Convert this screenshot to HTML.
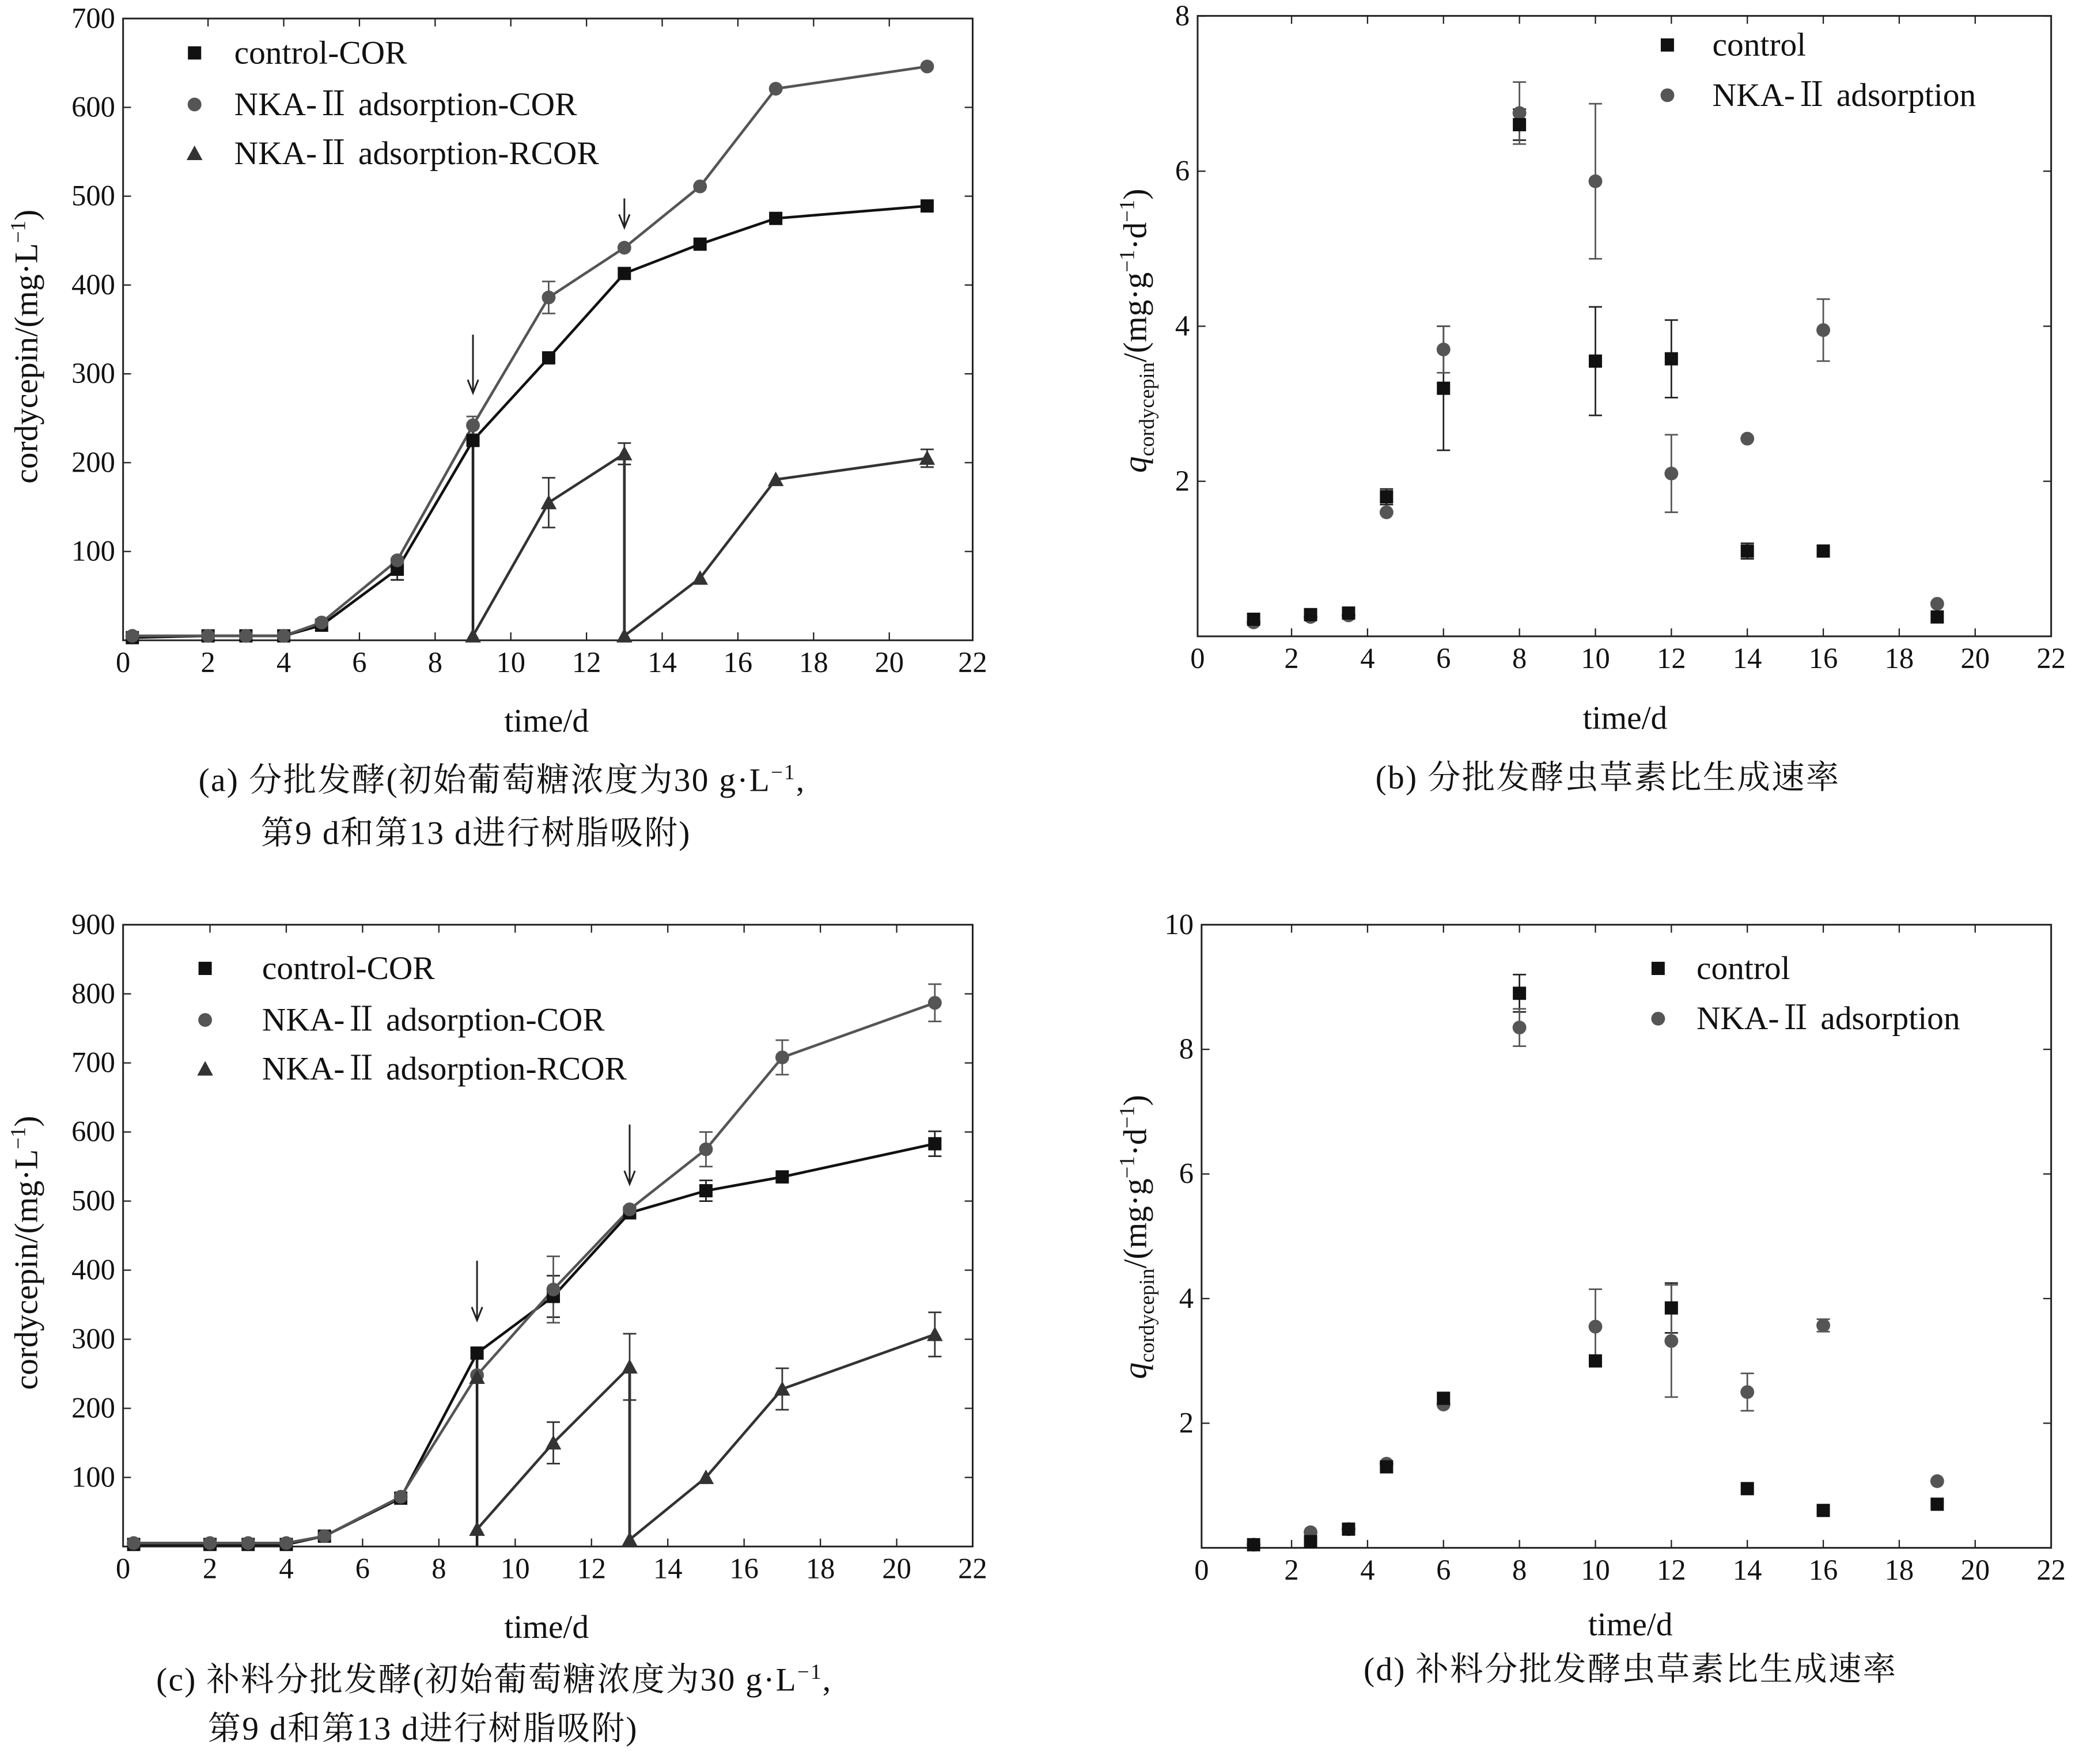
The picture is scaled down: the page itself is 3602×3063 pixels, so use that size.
<!DOCTYPE html>
<html><head><meta charset="utf-8"><style>
html,body{margin:0;padding:0;background:#fff}
svg{display:block}
text{font-family:"Liberation Serif","Noto Serif CJK SC","Noto Sans CJK SC",serif;fill:#111}
.cap{font-size:25px;letter-spacing:1px}
</style></head><body>
<svg id="fig" width="3602" height="3063" viewBox="0 0 1568 1333.4" xmlns="http://www.w3.org/2000/svg"></svg>
<script>
// ---- data ----
const aCtrlT=[0,2,3,4,5,7,9,11,13,15,17,21];
const aCtrlV=[3,5,5,5,17,80,225,318,413,446,475,489];
const aCtrlE=[0,0,0,0,0,12,0,0,0,0,0,0];
const aNkaT=[0,2,3,4,5,7,9,11,13,15,17,21];
const aNkaV=[5,5,5,5,20,90,242,386,442,511,621,646];
const aNkaE=[0,0,0,0,0,0,10,18,0,0,0,0];
const aRT=[9,11,13,13,15,17,21];
const aRV=[5,155,210,5,70,181,205];
const aRE=[0,28,12,0,0,0,10];

const bT=[1,2.5,3.5,4.5,6,8,10,12,14,16,19];
const bCtrlV=[0.22,0.28,0.3,1.8,3.2,6.6,3.55,3.58,1.1,1.1,0.25];
const bCtrlE=[0,0,0,0.1,0.8,0.2,0.7,0.5,0.1,0,0];
const bNkaV=[0.18,0.25,0.27,1.6,3.7,6.75,5.87,2.1,2.55,3.95,0.42];
const bNkaE=[0,0,0,0,0.3,0.4,1.0,0.5,0,0.4,0];

const cCtrlT=[0,2,3,4,5,7,9,11,13,15,17,21];
const cCtrlV=[3,3,3,3,15,70,280,362,483,515,535,583];
const cCtrlE=[0,0,0,0,0,0,0,30,0,15,0,18];
const cNkaT=[0,2,3,4,5,7,9,11,13,15,17,21];
const cNkaV=[5,5,5,5,15,72,248,372,488,575,708,787];
const cNkaE=[0,0,0,0,0,0,0,48,0,25,25,27];
const cRT=[9,11,13,13,15,17,21];
const cRV=[25,150,260,10,100,228,307];
const cRE=[0,30,48,0,0,30,32];

const dT=[1,2.5,3.5,4.5,6,8,10,12,14,16,19];
const dCtrlV=[0.05,0.1,0.3,1.3,2.4,8.9,3.0,3.85,0.95,0.6,0.7];
const dCtrlE=[0,0,0,0,0,0.3,0,0.4,0,0,0];
const dNkaV=[0.05,0.25,0.3,1.35,2.3,8.35,3.55,3.32,2.5,3.57,1.07];
const dNkaE=[0,0,0,0,0,0.3,0.6,0.9,0.3,0.1,0];

const xTicks=[0,2,4,6,8,10,12,14,16,18,20,22];
const aYTicks=[100,200,300,400,500,600,700];
const bYTicks=[2,4,6,8];
const cYTicks=[100,200,300,400,500,600,700,800,900];
const dYTicks=[2,4,6,8,10];

const svg=document.getElementById('fig');
const NS='http://www.w3.org/2000/svg';
function el(tag,attrs,parent){const e=document.createElementNS(NS,tag);for(const k in attrs)e.setAttribute(k,attrs[k]);(parent||svg).appendChild(e);return e;}
function txt(s,x,y,size,anchor,parent){const t=el('text',{x:x,y:y,'font-size':size,'text-anchor':anchor||'start'},parent);t.textContent=s;return t;}

function panel(name,box,x0,xs,y0,ys,yTicks){
  const g=el('g',{});
  
  
  const X=t=>x0+xs*t, Y=v=>y0-ys*v;
  const r=el('rect',{x:box[0],y:box[1],width:box[2]-box[0],height:box[3]-box[1],fill:'none',stroke:'#222','stroke-width':1.3},g);
  
  xTicks.forEach(t=>{const x=X(t); if(t>0&&t<22){el('line',{x1:x,y1:box[3],x2:x,y2:box[3]-6,stroke:'#222'},g);el('line',{x1:x,y1:box[1],x2:x,y2:box[1]+6,stroke:'#222'},g);}
    const lx=t===0?box[0]:(t===22?box[2]:x);
    const l=txt(String(t),lx,box[3]+24,22,'middle',g);});
  yTicks.forEach(v=>{const y=Y(v);el('line',{x1:box[0],y1:y,x2:box[0]+6,y2:y,stroke:'#222'},g);el('line',{x1:box[2],y1:y,x2:box[2]-6,y2:y,stroke:'#222'},g);
    const l=txt(String(v),box[0]-6,y+7,22,'end',g);});
  return {g,X,Y};
}
function line(p,T,V,color,name){const d=T.map((t,i)=>(i?'L':'M')+p.X(t)+' '+p.Y(V[i])).join(' ');const e=el('path',{d:d,fill:'none',stroke:color,'stroke-width':2},p.g);}
function errs(p,T,V,E,color){T.forEach((t,i)=>{if(!E[i])return;const x=p.X(t),y1=p.Y(V[i]-E[i]),y2=p.Y(V[i]+E[i]);
  const e=el('path',{d:`M${x} ${y1}L${x} ${y2}M${x-5} ${y1}L${x+5} ${y1}M${x-5} ${y2}L${x+5} ${y2}`,stroke:color,'stroke-width':1.2,fill:'none'},p.g);});}
function marker(g,type,x,y,name){let e;
  if(type==='sq')e=el('rect',{x:x-5,y:y-5,width:10,height:10,fill:'#111'},g);
  else if(type==='ci')e=el('circle',{cx:x,cy:y,r:5.2,fill:'#555'},g);
  else e=el('path',{d:`M${x} ${y-6}L${x+6} ${y+5}L${x-6} ${y+5}Z`,fill:'#333'},g);
  }
function marks(p,T,V,type,name){T.forEach((t,i)=>marker(p.g,type,p.X(t),p.Y(V[i]),name));}
function arrow(p,t,ya,yb){const x=p.X(t);const e=el('path',{d:`M${x} ${ya}L${x} ${yb}M${x-4} ${yb-10}L${x} ${yb}L${x+4} ${yb-10}`,stroke:'#222','stroke-width':1.3,fill:'none'},p.g);}
function vdrop(p,t,v,name){const e=el('line',{x1:p.X(t),y1:p.Y(v),x2:p.X(t),y2:p.Y(0),stroke:'#222','stroke-width':2},p.g);}
function legend(g,items,mx,tx,ys){items.forEach((it,i)=>{marker(g,it[0],mx,ys[i],'legend-marker');const l=txt(it[1],tx,ys[i]+8,25,'start',g);});}
function label(s,x,y,size,anchor,name,rot){const t=txt(s,x,y,size,anchor);if(rot)t.setAttribute('transform',`rotate(-90 ${x} ${y})`);return t;}

// ---- panel a ----
const pa=panel('panel-a',[93,14,735,484],100,28.6,484,0.6714,aYTicks);
vdrop(pa,9,235,'drop-day9');vdrop(pa,13,210,'drop-day13');
line(pa,aCtrlT,aCtrlV,'#111','control-cor-line');line(pa,aNkaT,aNkaV,'#555','nka-cor-line');line(pa,aRT,aRV,'#333','nka-rcor-line');
errs(pa,aCtrlT,aCtrlV,aCtrlE,'#222');errs(pa,aNkaT,aNkaV,aNkaE,'#555');errs(pa,aRT,aRV,aRE,'#333');
marks(pa,aCtrlT,aCtrlV,'sq','control-point');marks(pa,aNkaT,aNkaV,'ci','nka-point');marks(pa,aRT,aRV,'tr','rcor-point');
arrow(pa,9,253,297);arrow(pa,13,150,172);
legend(pa.g,[['sq','control-COR'],['ci','NKA-Ⅱ adsorption-COR'],['tr','NKA-Ⅱ adsorption-RCOR']],147,177,[40,79,116]);

// ---- panel b ----
const pb=panel('panel-b',[905,12,1550,481],918.6,28.7,481,58.6,bYTicks);
errs(pb,bT,bCtrlV,bCtrlE,'#222');errs(pb,bT,bNkaV,bNkaE,'#555');
marks(pb,bT,bNkaV,'ci','nka-point');marks(pb,bT,bCtrlV,'sq','control-point');
legend(pb.g,[['sq','control'],['ci','NKA-Ⅱ adsorption']],1260,1294,[34,72]);

// ---- panel c ----
const pc=panel('panel-c',[93,699,735,1169],101,28.83,1169,0.5222,cYTicks);
vdrop(pc,9,280,'drop-day9');vdrop(pc,13,260,'drop-day13');
line(pc,cCtrlT,cCtrlV,'#111','control-cor-line');line(pc,cNkaT,cNkaV,'#555','nka-cor-line');line(pc,cRT,cRV,'#333','nka-rcor-line');
errs(pc,cCtrlT,cCtrlV,cCtrlE,'#222');errs(pc,cNkaT,cNkaV,cNkaE,'#555');errs(pc,cRT,cRV,cRE,'#333');
marks(pc,cCtrlT,cCtrlV,'sq','control-point');marks(pc,cNkaT,cNkaV,'ci','nka-point');marks(pc,cRT,cRV,'tr','rcor-point');
marker(pc.g,'tr',pc.X(9),pc.Y(245),'rcor-point');
arrow(pc,9,953,998);arrow(pc,13,850,895);
legend(pc.g,[['sq','control-COR'],['ci','NKA-Ⅱ adsorption-COR'],['tr','NKA-Ⅱ adsorption-RCOR']],155,198,[732,771,808]);

// ---- panel d ----
const pd=panel('panel-d',[908,699,1550,1170],918.6,28.7,1170,47.1,dYTicks);
errs(pd,dT,dCtrlV,dCtrlE,'#222');errs(pd,dT,dNkaV,dNkaE,'#555');
marks(pd,dT,dNkaV,'ci','nka-point');marks(pd,dT,dCtrlV,'sq','control-point');
legend(pd.g,[['sq','control'],['ci','NKA-Ⅱ adsorption']],1253,1282,[732,770]);

// ---- axis titles & captions ----
function ytitleCor(x,y,name){const t=label('',x,y,25,'middle',name,true);t.innerHTML='cordycepin/(mg·L<tspan dy="-9" font-size="16">−1</tspan><tspan dy="9">)</tspan>';}
ytitleCor(28,262,'y-axis-title-a');ytitleCor(28,947,'y-axis-title-c');
function ytitleQ(x,y,name){const t=label('',x,y,25,'middle',name,true);t.innerHTML='<tspan font-style="italic">q</tspan><tspan dy="6" font-size="16">cordycepin</tspan><tspan dy="-6">/(mg·g</tspan><tspan dy="-9" font-size="16">−1</tspan><tspan dy="9">·d</tspan><tspan dy="-9" font-size="16">−1</tspan><tspan dy="9">)</tspan>';}
ytitleQ(866,250,'y-axis-title-b');ytitleQ(866,935,'y-axis-title-d');
label('time/d',413,553,25,'middle','x-axis-title-a');
label('time/d',1228,551,25,'middle','x-axis-title-b');
label('time/d',413,1238,25,'middle','x-axis-title-c');
label('time/d',1232,1236,25,'middle','x-axis-title-d');
let t=label('',150,598,25,'start','caption-a-line1');t.setAttribute('class','cap');t.innerHTML='(a) 分批发酵(初始葡萄糖浓度为30 g·L<tspan dy="-9" font-size="16">−1</tspan><tspan dy="9">,</tspan>';
t=label('第9 d和第13 d进行树脂吸附)',197,638,25,'start','caption-a-line2');t.setAttribute('class','cap');
t=label('(b) 分批发酵虫草素比生成速率',1215,596,25,'middle','caption-b');t.setAttribute('class','cap');
t=label('',118,1278,25,'start','caption-c-line1');t.setAttribute('class','cap');t.innerHTML='(c) 补料分批发酵(初始葡萄糖浓度为30 g·L<tspan dy="-9" font-size="16">−1</tspan><tspan dy="9">,</tspan>';
t=label('第9 d和第13 d进行树脂吸附)',157,1315,25,'start','caption-c-line2');t.setAttribute('class','cap');
t=label('(d) 补料分批发酵虫草素比生成速率',1232,1270,25,'middle','caption-d');t.setAttribute('class','cap');
</script>
</body></html>
